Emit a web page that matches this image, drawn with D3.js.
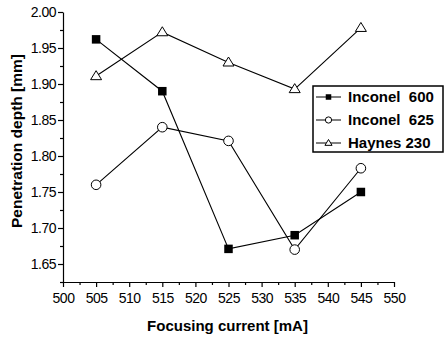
<!DOCTYPE html>
<html>
<head>
<meta charset="utf-8">
<script src="https://cdn.jsdelivr.net/npm/d3@7"></script>
<style>
  body { margin: 0; background: #fff; }
  text { font-family: "Liberation Sans", Arial, sans-serif; fill: #000; }
</style>
</head>
<body>
<div id="chart"></div>
<script>
// Data
var currents = [505, 515, 525, 535, 545];
var inconel600 = [1.962, 1.89, 1.671, 1.69, 1.75];
var inconel625 = [1.76, 1.84, 1.821, 1.67, 1.783];
var haynes230 = [1.911, 1.972, 1.93, 1.893, 1.978];
var seriesNames = ["Inconel  600", "Inconel  625", "Haynes 230"];
var xTicks = [500, 505, 510, 515, 520, 525, 530, 535, 540, 545, 550];
var yTicks = [1.65, 1.70, 1.75, 1.80, 1.85, 1.90, 1.95, 2.00];

var W = 446, H = 337;
var margin = { top: 12, right: 52, bottom: 55, left: 63 },
    width = W - margin.left - margin.right,
    height = H - margin.top - margin.bottom;

var x = d3.scaleLinear().domain([500, 550]).range([0, width]);
var y = d3.scaleLinear().domain([1.625, 2.0]).range([height, 0]);

var svg = d3.select("#chart").append("svg")
    .attr("width", W)
    .attr("height", H)
    .append("g")
    .attr("transform", "translate(" + margin.left + "," + margin.top + ")");

// Minor ticks
var xMinor = d3.range(502.5, 550, 5);
var yMinor = d3.range(1.625, 2.0, 0.05);

svg.append("g")
    .attr("transform", "translate(0," + height + ")")
    .call(d3.axisBottom(x).tickValues(xMinor).tickSize(3).tickFormat(""))
    .call(g => g.select(".domain").remove());
svg.append("g")
    .call(d3.axisLeft(y).tickValues(yMinor).tickSize(3).tickFormat(""))
    .call(g => g.select(".domain").remove());

// Major axes
svg.append("g")
    .attr("transform", "translate(0," + height + ")")
    .call(d3.axisBottom(x).tickValues(xTicks).tickSize(5).tickSizeOuter(0).tickPadding(6).tickFormat(d3.format("d")));
svg.append("g")
    .call(d3.axisLeft(y).tickValues(yTicks).tickSize(5).tickSizeOuter(0).tickPadding(2).tickFormat(d3.format(".2f")));

svg.selectAll(".tick text").style("font-size", "14px").style("letter-spacing", "-0.5px");
svg.selectAll(".domain, .tick line").attr("stroke", "#000").attr("stroke-width", 1.2);

// Series
var series = [
    { name: seriesNames[0], values: inconel600, symbol: "square" },
    { name: seriesNames[1], values: inconel625, symbol: "circle" },
    { name: seriesNames[2], values: haynes230, symbol: "triangle" }
];

var line = d3.line()
    .x(function (d, i) { return x(currents[i]); })
    .y(function (d) { return y(d); });

function drawMarker(g, type, cx, cy, scale) {
    scale = scale || 1;
    if (type === "square") {
        var s = 8.5 * scale;
        g.append("rect").attr("x", cx - s / 2).attr("y", cy - s / 2)
            .attr("width", s).attr("height", s).attr("fill", "#000");
    } else if (type === "circle") {
        g.append("circle").attr("cx", cx).attr("cy", cy).attr("r", 4.8 * scale)
            .attr("fill", "#fff").attr("stroke", "#000").attr("stroke-width", 1);
    } else {
        var h = 9 * scale, w = 11 * scale;
        g.append("path")
            .attr("d", "M" + cx + "," + (cy - h * 0.6) + "L" + (cx + w / 2) + "," + (cy + h * 0.4) +
                "L" + (cx - w / 2) + "," + (cy + h * 0.4) + "Z")
            .attr("fill", "#fff").attr("stroke", "#000").attr("stroke-width", 1);
    }
}

series.forEach(function (s) {
    svg.append("path")
        .datum(s.values)
        .attr("fill", "none")
        .attr("stroke", "#000")
        .attr("stroke-width", 1.1)
        .attr("d", line);
});
series.forEach(function (s) {
    var g = svg.append("g");
    s.values.forEach(function (v, i) {
        drawMarker(g, s.symbol, x(currents[i]), y(v));
    });
});

// Legend
var legend = svg.append("g").attr("transform", "translate(" + (313 - margin.left) + "," + (86 - margin.top) + ")");
legend.append("rect")
    .attr("x", 0).attr("y", 0)
    .attr("width", 130).attr("height", 66)
    .attr("fill", "#fff").attr("stroke", "#000").attr("stroke-width", 1.5);
series.forEach(function (s, i) {
    var ly = 11 + i * 23;
    legend.append("line").attr("x1", 3).attr("x2", 28).attr("y1", ly).attr("y2", ly)
        .attr("stroke", "#000").attr("stroke-width", 1);
    drawMarker(legend, s.symbol, 15.5, ly, 0.65);
    legend.append("text")
        .attr("x", 35).attr("y", ly)
        .attr("dy", "0.36em")
        .style("font-size", "15px")
        .style("font-weight", "bold")
        .style("white-space", "pre")
        .text(s.name);
});

// Axis titles
svg.append("text")
    .attr("x", width / 2 - 1)
    .attr("y", height + 49)
    .style("text-anchor", "middle")
    .style("font-size", "15px")
    .style("font-weight", "bold")
    .text("Focusing current [mA]");

svg.append("text")
    .attr("transform", "rotate(-90)")
    .attr("x", -height / 2 + 6)
    .attr("y", -41)
    .style("text-anchor", "middle")
    .style("font-size", "15.5px")
    .style("font-weight", "bold")
    .text("Penetration depth [mm]");
</script>
</body>
</html>
